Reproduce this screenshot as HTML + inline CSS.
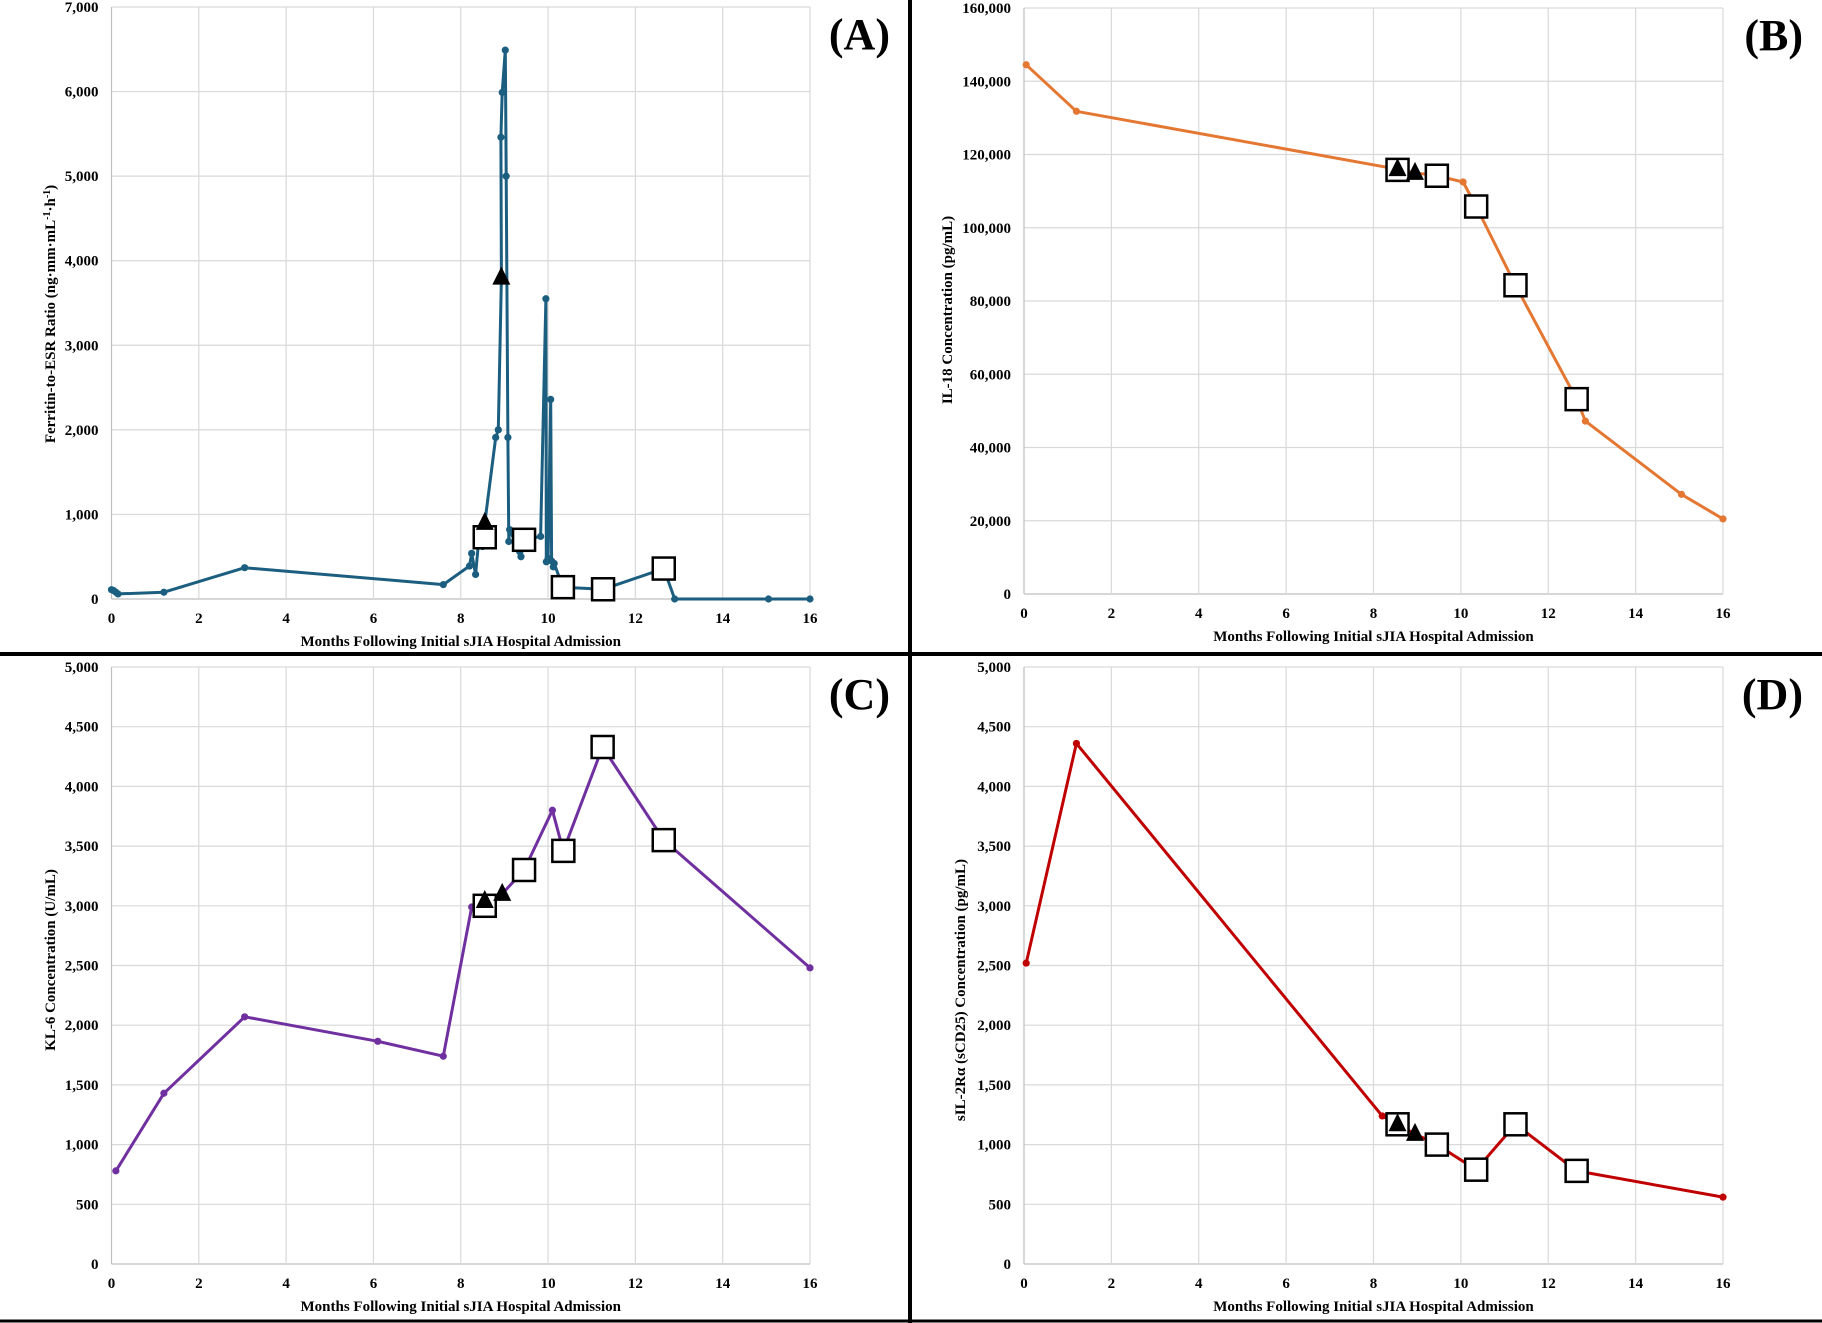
<!DOCTYPE html>
<html><head><meta charset="utf-8">
<style>
html,body{margin:0;padding:0;background:#fff;}
svg{display:block;font-family:"Liberation Serif",serif;}
</style></head>
<body>
<svg id="fig" width="1822" height="1323" viewBox="0 0 1822 1323">
<rect x="0" y="0" width="1822" height="1323" fill="#fff"/>
<line x1="910" y1="0" x2="910" y2="1323" stroke="#000" stroke-width="4"/>
<line x1="0" y1="654" x2="1822" y2="654" stroke="#000" stroke-width="4"/>
<line x1="0" y1="1321" x2="1822" y2="1321" stroke="#000" stroke-width="3"/>
</svg>
<script>
// Panel A: Ferritin-to-ESR ratio
const aMonths=[0,0.05,0.1,0.15,1.2,3.05,7.6,8.2,8.25,8.34,8.4,8.5,8.55,8.8,8.86,8.93,8.92,8.95,9.02,9.04,9.08,9.1,9.12,9.35,9.38,9.45,9.83,9.95,9.96,10.0,10.06,10.08,10.12,10.14,10.34,11.26,12.65,12.9,15.05,16];
const aValues=[110,100,80,60,80,370,170,390,540,290,630,620,900,1910,2000,3800,5460,5990,6490,5000,1910,680,820,560,500,700,740,3550,440,480,2360,450,380,420,140,115,360,0,0,0];
const aTriX=[8.55,8.93], aTriY=[900,3800];
const aSqX=[8.55,9.45,10.34,11.26,12.65], aSqY=[730,700,140,115,360];
const aTicks=["0","1,000","2,000","3,000","4,000","5,000","6,000","7,000"];
// Panel B: IL-18
const bMonths=[0.05,1.2,8.55,8.95,9.45,10.05,10.35,11.25,12.65,12.85,15.05,16];
const bValues=[144500,131800,116000,115000,114200,112500,105800,84300,53200,47200,27200,20500];
const bTriX=[8.55,8.95], bTriY=[116000,115000];
const bSqX=[8.55,9.45,10.35,11.25,12.65], bSqY=[115800,114200,105800,84300,53200];
const bTicks=["0","20,000","40,000","60,000","80,000","100,000","120,000","140,000","160,000"];
// Panel C: KL-6
const cMonths=[0.1,1.2,3.05,6.1,7.6,8.25,8.55,8.95,9.45,10.1,10.35,11.25,12.65,16];
const cValues=[780,1430,2070,1865,1740,2990,3010,3100,3300,3800,3460,4330,3550,2480];
const cTriX=[8.55,8.95], cTriY=[3040,3100];
const cSqX=[8.55,9.45,10.35,11.25,12.65], cSqY=[3000,3300,3460,4330,3550];
const cTicks=["0","500","1,000","1,500","2,000","2,500","3,000","3,500","4,000","4,500","5,000"];
// Panel D: sIL-2Ra
const dMonths=[0.05,1.2,8.2,8.55,8.95,9.45,10.35,11.25,12.65,16];
const dValues=[2520,4360,1240,1170,1090,1000,790,1170,780,560];
const dTriX=[8.55,8.95], dTriY=[1170,1090];
const dSqX=[8.55,9.45,10.35,11.25,12.65], dSqY=[1170,1000,790,1170,780];
const dTicks=cTicks;
const xTicks=["0","2","4","6","8","10","12","14","16"];

const NS="http://www.w3.org/2000/svg";
const svg=document.getElementById('fig');
function mk(tag,attrs,parent){const e=document.createElementNS(NS,tag);for(const k in attrs)e.setAttribute(k,attrs[k]);(parent||svg).appendChild(e);return e;}

function panel(o){
  const g=mk('g',{});
  
  
  const sx=v=>o.x0+(v/16)*(o.x1-o.x0);
  const sy=v=>o.y0-(v/o.ymax)*(o.y0-o.y1);
  const n=o.ticks.length-1;
  for(let i=0;i<=n;i++){
    const v=o.ymax*i/n, y=sy(v);
    const gl=mk('line',{x1:o.x0,x2:o.x1,y1:y,y2:y,stroke:i==0?'#bfbfbf':'#d9d9d9','stroke-width':1.2},g);
    
    
    const t=mk('text',{x:o.x0-13,y:y+5,'text-anchor':'end','font-size':15,'font-weight':'bold'},g);
    t.textContent=o.ticks[i];
    
    
  }
  for(let i=0;i<xTicks.length;i++){
    const x=sx(+xTicks[i]);
    const gl=mk('line',{x1:x,x2:x,y1:o.y1,y2:o.y0,stroke:i==0?'#bfbfbf':'#d9d9d9','stroke-width':1.2},g);
    
    
    const t=mk('text',{x:x,y:o.y0+24,'text-anchor':'middle','font-size':15,'font-weight':'bold'},g);
    t.textContent=xTicks[i];
    
    
  }
  const xt=mk('text',{x:(o.x0+o.x1)/2,y:o.y0+47,'text-anchor':'middle','font-size':15,'font-weight':'bold'},g);
  xt.textContent='Months Following  Initial  sJIA Hospital Admission';
  
  
  const yt=mk('text',{x:0,y:0,'text-anchor':'middle','font-size':15,'font-weight':'bold',transform:`translate(${o.tx},${o.ty}) rotate(-90)`},g);
  yt.innerHTML=o.ytitle;
  
  
  const lab=mk('text',{x:o.x1+80,y:o.y1+42,'text-anchor':'end','font-size':44,'font-weight':'bold'},g);
  lab.textContent=o.label;
  
  
  const pts=o.xs.map((v,i)=>sx(v).toFixed(1)+','+sy(o.ys[i]).toFixed(1)).join(' ');
  const pl=mk('polyline',{points:pts,fill:'none',stroke:o.color,'stroke-width':3,'stroke-linejoin':'round'},g);
  
  
  o.xs.forEach((v,i)=>{
    const c=mk('circle',{cx:sx(v),cy:sy(o.ys[i]),r:3.6,fill:o.color},g);
    
    
  });
  o.sqX.forEach((v,i)=>{
    const s=22;
    const r=mk('rect',{x:sx(v)-s/2,y:sy(o.sqY[i])-s/2,width:s,height:s,fill:'#fff',stroke:'#000','stroke-width':2.5},g);
    
    
  });
  o.triX.forEach((v,i)=>{
    const x=sx(v),y=sy(o.triY[i]);
    const p=mk('polygon',{points:`${x},${y-11} ${x-9},${y+7} ${x+9},${y+7}`,fill:'#000'},g);
    
    
  });
}
panel({name:'panel-a-ferritin-esr',label:'(A)',x0:111.5,x1:810,y0:599,y1:7,ymax:7000,ticks:aTicks,color:'#1b5e80',xs:aMonths,ys:aValues,triX:aTriX,triY:aTriY,sqX:aSqX,sqY:aSqY,tx:55,ty:314,ytitle:'Ferritin-to-ESR  Ratio (ng·mm·mL<tspan baseline-shift="super" font-size="10">-1</tspan>·h<tspan baseline-shift="super" font-size="10">-1</tspan>)'});
panel({name:'panel-b-il18',label:'(B)',x0:1024,x1:1723,y0:594,y1:8,ymax:160000,ticks:bTicks,color:'#e47833',xs:bMonths,ys:bValues,triX:bTriX,triY:bTriY,sqX:bSqX,sqY:bSqY,tx:952,ty:310,ytitle:'IL-18 Concentration  (pg/mL)'});
panel({name:'panel-c-kl6',label:'(C)',x0:111.5,x1:810,y0:1264,y1:667,ymax:5000,ticks:cTicks,color:'#7030a0',xs:cMonths,ys:cValues,triX:cTriX,triY:cTriY,sqX:cSqX,sqY:cSqY,tx:55,ty:960,ytitle:'KL-6 Concentration  (U/mL)'});
panel({name:'panel-d-sil2ra',label:'(D)',x0:1024,x1:1723,y0:1264,y1:667,ymax:5000,ticks:dTicks,color:'#c00000',xs:dMonths,ys:dValues,triX:dTriX,triY:dTriY,sqX:dSqX,sqY:dSqY,tx:965,ty:990,ytitle:'sIL-2Rα (sCD25) Concentration  (pg/mL)'});
</script>
</body></html>
